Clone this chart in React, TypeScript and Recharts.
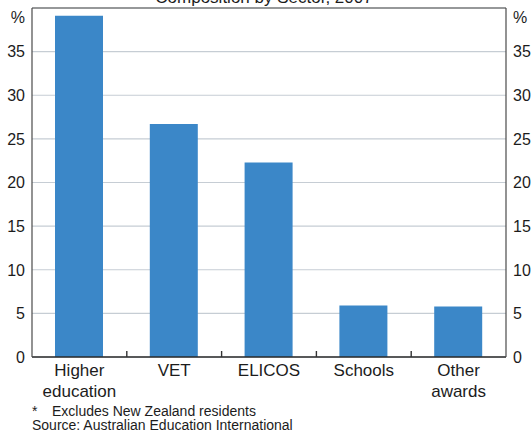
import { Bar, BarChart, CartesianGrid, ReferenceLine, XAxis, YAxis } from "recharts";

const sectors = ["Higher\neducation", "VET", "ELICOS", "Schools", "Other\nawards"];
const shares = [39.1, 26.7, 22.3, 5.9, 5.8];
const yTicks = [0, 5, 10, 15, 20, 25, 30, 35, 40];
const title = "Composition by Sector, 2007";
const footnotes = ["Excludes New Zealand residents", "Source: Australian Education International"];

const FONT = "'Liberation Sans', Arial, sans-serif";
const TEXT = "#1c1c1c";
const AXIS = "#4a4a4a";

const W = 531;
const H = 435;
const LEFT_W = 32;
const RIGHT_W = 25;
const BAND = (W - LEFT_W - RIGHT_W) / sectors.length;

const data = sectors.map((name, i) => ({ name, value: shares[i] }));

const YTick = ({ x, y, payload, textAnchor }: any) => {
  const isTop = payload.value === 40;
  return (
    <text x={x} y={isTop ? y + 8 : y} dy="0.36em" textAnchor={textAnchor} fontSize={16} fontFamily={FONT} fill={TEXT}>
      {isTop ? "%" : payload.value}
    </text>
  );
};

// category label plus the small inward tick at the right edge of each band
const CatTick = ({ x, y, payload }: any) => {
  const lines = String(payload.value).split("\n");
  const idx = sectors.indexOf(payload.value);
  const edge = x + BAND / 2;
  return (
    <g>
      {idx >= 0 && idx < sectors.length - 1 && (
        <line x1={edge} x2={edge} y1={y - 6} y2={y} stroke="#333" strokeWidth={1.4} />
      )}
      <text x={x} y={y} textAnchor="middle" fontSize={17} fontFamily={FONT} fill={TEXT}>
        {lines.map((line, i) => (
          <tspan key={line} x={x} dy={i === 0 ? 19 : 20.5}>
            {line}
          </tspan>
        ))}
      </text>
    </g>
  );
};

export default function App() {
  return (
    <div style={{ position: "absolute", left: 0, top: 0, width: W, height: H, background: "#fff" }}>
      <BarChart width={W} height={H} data={data} margin={{ top: 8, right: 0, left: 0, bottom: 77 }}>
        <CartesianGrid vertical={false} stroke="#c6cdd4" strokeWidth={1.2} yAxisId="left" />
        <XAxis
          xAxisId="cat"
          dataKey="name"
          height={1}
          interval={0}
          tickLine={false}
          tickSize={0}
          tickMargin={0}
          axisLine={false}
          tick={<CatTick />}
        />
        <YAxis
          yAxisId="left"
          width={LEFT_W}
          domain={[0, 40]}
          ticks={yTicks}
          tickLine={false}
          tickSize={0}
          tickMargin={7}
          axisLine={{ stroke: AXIS, strokeWidth: 1.2 }}
          tick={<YTick />}
        />
        <YAxis
          yAxisId="right"
          orientation="right"
          width={RIGHT_W}
          domain={[0, 40]}
          ticks={yTicks}
          allowDataOverflow
          tickLine={false}
          tickSize={0}
          tickMargin={7}
          axisLine={{ stroke: AXIS, strokeWidth: 1.2 }}
          tick={<YTick />}
        />
        <ReferenceLine yAxisId="left" xAxisId="cat" y={40} stroke={AXIS} strokeWidth={1.2} />
        <Bar xAxisId="cat" yAxisId="left" dataKey="value" fill="#3b87c8" barSize={48} isAnimationActive={false} />
        <ReferenceLine yAxisId="left" xAxisId="cat" y={0} stroke="#2a2a2a" strokeWidth={1.6} />
      </BarChart>
      <svg width={W} height={H} style={{ position: "absolute", left: 0, top: 0, pointerEvents: "none" }}>
        <text x={264} y={3} textAnchor="middle" fontSize={17} fontFamily={FONT} fill={TEXT}>
          {title}
        </text>
        <text x={32} y={416} fontSize={14} fontFamily={FONT} fill={TEXT}>*</text>
        <text x={52} y={416} fontSize={14} fontFamily={FONT} fill={TEXT}>
          {footnotes[0]}
        </text>
        <text x={32} y={430} fontSize={14} fontFamily={FONT} fill={TEXT}>
          {footnotes[1]}
        </text>
      </svg>
    </div>
  );
}
